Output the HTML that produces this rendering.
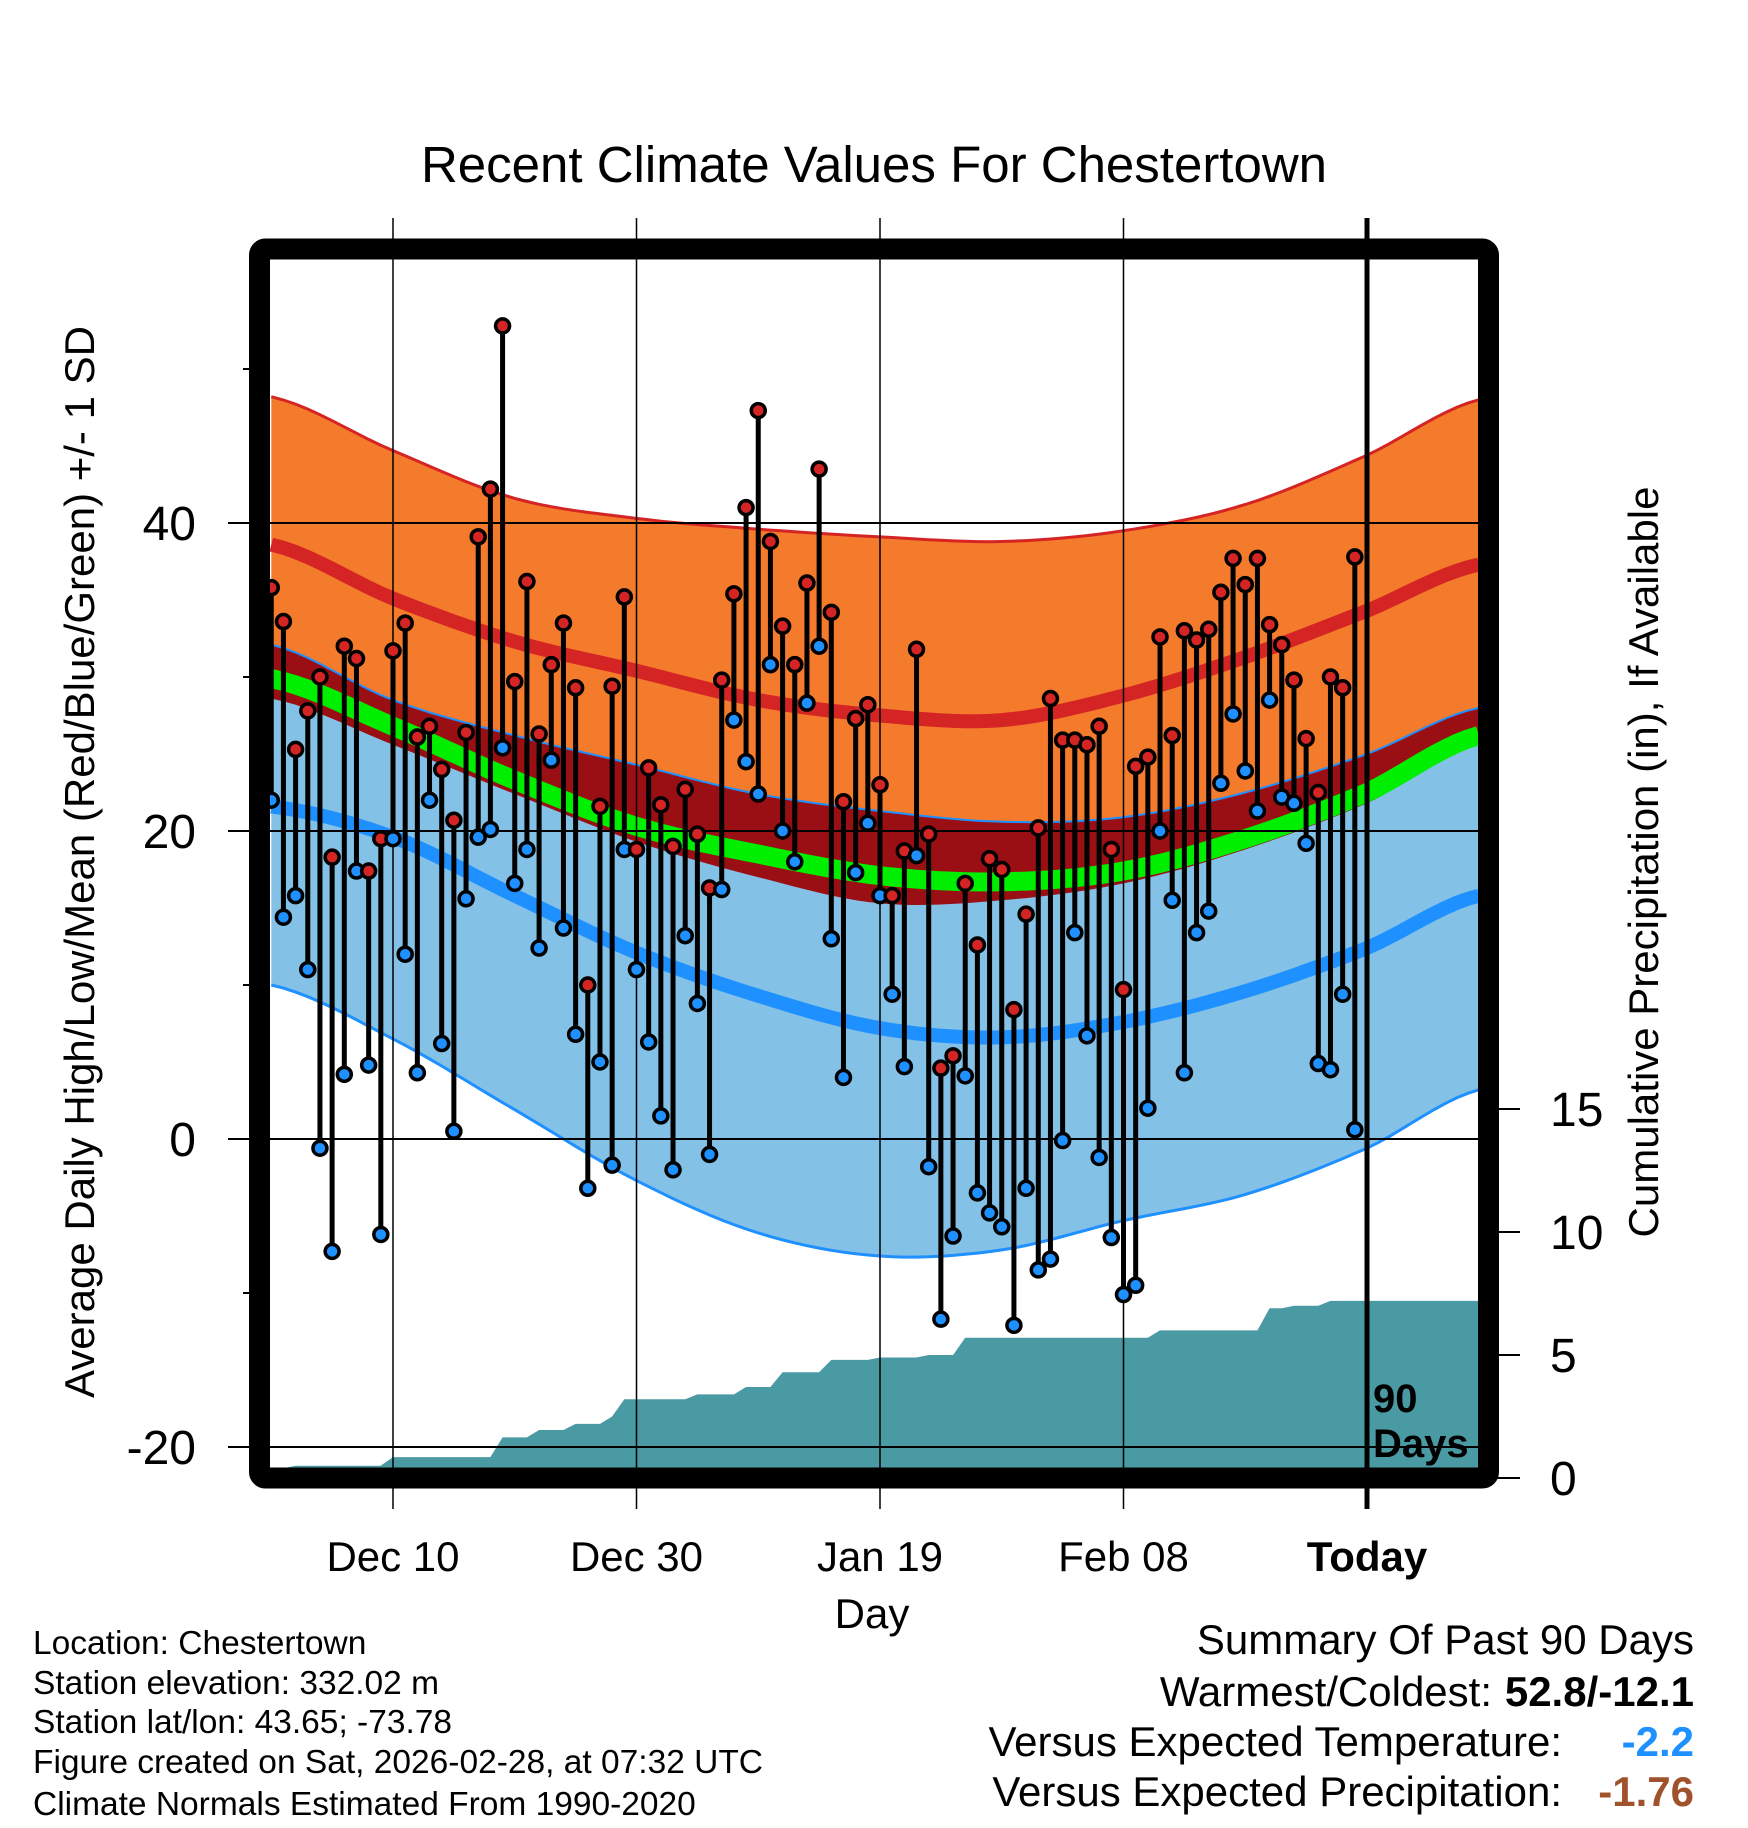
<!DOCTYPE html>
<html><head><meta charset="utf-8"><style>
html,body{margin:0;padding:0;background:#fff}
svg{display:block}
text{font-family:"Liberation Sans",Arial,sans-serif;fill:#000}
</style></head><body>
<svg id="chart" width="1748" height="1828" viewBox="0 0 1748 1828" xmlns="http://www.w3.org/2000/svg">
<defs><clipPath id="plotclip"><rect x="270" y="260" width="1208" height="1208"/></clipPath></defs>
<text x="874" y="182" font-size="51" text-anchor="middle">Recent Climate Values For Chestertown</text>
<g id="gridlayer"></g>
<g id="plot" clip-path="url(#plotclip)"></g>
<g id="overlay"></g>
<text transform="translate(94,862) rotate(-90)" font-size="42" text-anchor="middle">Average Daily High/Low/Mean (Red/Blue/Green) +/- 1 SD</text>
<text transform="translate(1658,862) rotate(-90)" font-size="42" text-anchor="middle">Cumulative Precipitation (in), If Available</text>
<text x="872" y="1628" font-size="42" text-anchor="middle">Day</text>
<text x="1373" y="1412" font-size="40" font-weight="bold">90</text>
<text x="1373" y="1457" font-size="40" font-weight="bold">Days</text>
<g font-size="33.5">
<text x="33" y="1654">Location: Chestertown</text>
<text x="33" y="1694">Station elevation: 332.02 m</text>
<text x="33" y="1733">Station lat/lon: 43.65; -73.78</text>
<text x="33" y="1773">Figure created on Sat, 2026-02-28, at 07:32 UTC</text>
<text x="33" y="1815">Climate Normals Estimated From 1990-2020</text>
</g>
<g font-size="42">
<text x="1694" y="1654" text-anchor="end">Summary Of Past 90 Days</text>
<text x="1492" y="1706" text-anchor="end">Warmest/Coldest:</text>
<text x="1694" y="1706" text-anchor="end" font-weight="bold">52.8/-12.1</text>
<text x="1562" y="1756" text-anchor="end">Versus Expected Temperature:</text>
<text x="1694" y="1756" text-anchor="end" font-weight="bold" style="fill:#1e90ff">-2.2</text>
<text x="1562" y="1806" text-anchor="end">Versus Expected Precipitation:</text>
<text x="1694" y="1806" text-anchor="end" font-weight="bold" style="fill:#a0522d">-1.76</text>
</g>
</svg>
<script>
const highs=[35.8,33.6,25.3,27.8,30,18.3,32,31.2,17.4,19.5,31.7,33.5,26.1,26.8,24,20.7,26.4,39.1,42.2,52.8,29.7,36.2,26.3,30.8,33.5,29.3,10,21.6,29.4,35.2,18.8,24.1,21.7,19,22.7,19.8,16.3,29.8,35.4,41,47.3,38.8,33.3,30.8,36.1,43.5,34.2,21.9,27.3,28.2,23,15.8,18.7,31.8,19.8,4.6,5.4,16.6,12.6,18.2,17.5,8.4,14.6,20.2,28.6,25.9,25.9,25.6,26.8,18.8,9.7,24.2,24.8,32.6,26.2,33,32.4,33.1,35.5,37.7,36,37.7,33.4,32.1,29.8,26,22.5,30,29.3,37.8];
const lows=[22,14.4,15.8,11,-0.6,-7.3,4.2,17.4,4.8,-6.2,19.5,12,4.3,22,6.2,0.5,15.6,19.6,20.1,25.4,16.6,18.8,12.4,24.6,13.7,6.8,-3.2,5,-1.7,18.8,11,6.3,1.5,-2,13.2,8.8,-1,16.2,27.2,24.5,22.4,30.8,20,18,28.3,32,13,4,17.3,20.5,15.8,9.4,4.7,18.4,-1.8,-11.7,-6.3,4.1,-3.5,-4.8,-5.7,-12.1,-3.2,-8.5,-7.8,-0.1,13.4,6.7,-1.2,-6.4,-10.1,-9.5,2,20,15.5,4.3,13.4,14.8,23.1,27.6,23.9,21.3,28.5,22.2,21.8,19.2,4.9,4.5,9.4,0.6];
const precip=[0.4,0.4,0.5,0.5,0.5,0.5,0.5,0.5,0.5,0.5,0.85,0.85,0.85,0.85,0.85,0.85,0.85,0.85,0.85,1.65,1.65,1.65,1.95,1.95,1.95,2.2,2.2,2.2,2.5,3.2,3.2,3.2,3.2,3.2,3.2,3.4,3.4,3.4,3.4,3.7,3.7,3.7,4.3,4.3,4.3,4.3,4.8,4.8,4.8,4.8,4.9,4.9,4.9,4.9,5.0,5.0,5.0,5.7,5.7,5.7,5.7,5.7,5.7,5.7,5.7,5.7,5.7,5.7,5.7,5.7,5.7,5.7,5.7,6.0,6.0,6.0,6.0,6.0,6.0,6.0,6.0,6.0,6.9,6.9,7.0,7.0,7.0,7.2,7.2,7.2];
const normDays=[0,10,20,30,40,50,60,70,80,90,99.2];
const highPlusSD=[48.2,44.7,41.6,40.3,39.6,39.1,38.8,39.5,41.2,44.4,48];
const highMean=[38.6,35.1,32.3,30.4,28.5,27.5,27.2,28.8,31.3,34.3,37.3];
const lowPlusSD=[32.1,28.5,26.2,24.3,22.4,21.3,20.6,20.9,22.5,25,28];
const highMinusSD=[28.6,25.6,22.4,19.3,17,15.3,15.5,16.6,18.8,21.8,25.6];
const meanTemp=[29.9,26.8,23.3,20.3,18.5,17.1,16.7,17.4,19.5,22.5,26.2];
const lowMean=[21.6,19.6,15.8,12.1,9.3,7.2,6.6,7.6,9.6,12.4,15.8];
const lowMinusSD=[10,6.5,1.9,-2.7,-6.1,-7.6,-7.2,-5.3,-3.6,-0.6,3.2];
const tempTicks=[40,20,0,-20];
const tempMinor=[50,30,10,-10];
const precipTicks=[0,5,10,15];
const dateLabels=["Dec 10","Dec 30","Jan 19","Feb 08","Today"];
const dateDays=[10,30,50,70,90];

const NS="http://www.w3.org/2000/svg";
const xD=d=>393+(d-10)*12.175;
const yT=t=>1139-15.4*t;
const yP=p=>1478-24.6*p;
function mk(tag,attrs,parent){const e=document.createElementNS(NS,tag);for(const k in attrs)e.setAttribute(k,attrs[k]);parent.appendChild(e);return e;}
function interp(arr){
  const pts=[];const n=arr.length;
  for(let i=0;i<n-1;i++){const p0=arr[Math.max(0,i-1)],p1=arr[i],p2=arr[i+1],p3=arr[Math.min(n-1,i+2)];
    const d0=normDays[i],d1=normDays[i+1];
    for(let s=0;s<10;s++){const t=s/10;const v=0.5*((2*p1)+(-p0+p2)*t+(2*p0-5*p1+4*p2-p3)*t*t+(-p0+3*p1-3*p2+p3)*t*t*t);pts.push([d0+(d1-d0)*t,v]);}}
  pts.push([normDays[n-1],arr[n-1]]);return pts;}
function lineD(arr){return interp(arr).map((p,i)=>(i?'L':'M')+xD(p[0]).toFixed(1)+','+yT(p[1]).toFixed(1)).join(' ');}
function bandD(top,bot){const a=interp(top),b=interp(bot).reverse();return a.map((p,i)=>(i?'L':'M')+xD(p[0]).toFixed(1)+','+yT(p[1]).toFixed(1)).join(' ')+' '+b.map(p=>'L'+xD(p[0]).toFixed(1)+','+yT(p[1]).toFixed(1)).join(' ')+' Z';}

const plot=document.getElementById('plot');
const grid=document.getElementById('gridlayer');
const ov=document.getElementById('overlay');

let e;
e=mk('path',{d:bandD(highPlusSD,highMinusSD),fill:'#f47a2c'},plot);


e=mk('path',{d:bandD(lowPlusSD,lowMinusSD),fill:'#84c1e6'},plot);


e=mk('path',{d:bandD(lowPlusSD,highMinusSD),fill:'#9a0f14'},plot);


e=mk('path',{d:lineD(highPlusSD),fill:'none',stroke:'#d42424','stroke-width':3},plot);


e=mk('path',{d:lineD(lowPlusSD),fill:'none',stroke:'#1e90ff','stroke-width':2},plot);


e=mk('path',{d:lineD(lowMinusSD),fill:'none',stroke:'#1e90ff','stroke-width':3},plot);


e=mk('path',{d:lineD(meanTemp),fill:'none',stroke:'#00ee00','stroke-width':19},plot);


e=mk('path',{d:lineD(highMean),fill:'none',stroke:'#d42424','stroke-width':14},plot);


e=mk('path',{d:lineD(lowMean),fill:'none',stroke:'#1e90ff','stroke-width':14},plot);



let pd='M'+xD(0)+','+yP(0);
precip.forEach((p,i)=>{pd+=' L'+xD(i).toFixed(1)+','+yP(p).toFixed(1);});
pd+=' L1478,'+yP(precip[precip.length-1]).toFixed(1)+' L1478,'+yP(0)+' Z';
e=mk('path',{d:pd,fill:'#4a9aa3'},plot);



tempTicks.forEach(t=>{e=mk('line',{x1:228,x2:1478,y1:yT(t),y2:yT(t),stroke:'#000','stroke-width':2},ov);


 e=mk('text',{x:196,y:yT(t)+17,'font-size':48,'text-anchor':'end'},ov);e.textContent=t;

});
tempMinor.forEach(t=>{e=mk('line',{x1:243,x2:262,y1:yT(t),y2:yT(t),stroke:'#000','stroke-width':2},ov);

});
dateDays.forEach((d,i)=>{const today=i===dateDays.length-1;
 e=mk('line',{x1:xD(d),x2:xD(d),y1:218,y2:1509,stroke:'#000','stroke-width':today?5:1.5},ov);


 e=mk('text',{x:xD(d),y:1571,'font-size':42,'text-anchor':'middle','font-weight':today?'bold':'normal'},ov);e.textContent=dateLabels[i];

});
precipTicks.forEach(p=>{e=mk('line',{x1:1490,x2:1520,y1:yP(p),y2:yP(p),stroke:'#000','stroke-width':2},ov);


 e=mk('text',{x:1550,y:yP(p)+17,'font-size':48},ov);e.textContent=p;

});

const marks=document.createElementNS(NS,'g');marks.setAttribute('clip-path','url(#plotclip)');ov.appendChild(marks);


highs.forEach((h,i)=>{const x=xD(i);
 e=mk('line',{x1:x,x2:x,y1:yT(h),y2:yT(lows[i]),stroke:'#000','stroke-width':5},marks);

});
highs.forEach((h,i)=>{const x=xD(i);
 e=mk('circle',{cx:x,cy:yT(h),r:7,fill:'#d42424',stroke:'#000','stroke-width':3.5},marks);


 e=mk('circle',{cx:x,cy:yT(lows[i]),r:7,fill:'#1e90ff',stroke:'#000','stroke-width':3.5},marks);

});

e=mk('rect',{x:259.5,y:249,width:1229,height:1229,fill:'none',stroke:'#000','stroke-width':21,rx:6},ov);


e=mk('line',{x1:xD(90),x2:xD(90),y1:218,y2:1509,stroke:'#000','stroke-width':5},ov);


</script>
</body></html>
